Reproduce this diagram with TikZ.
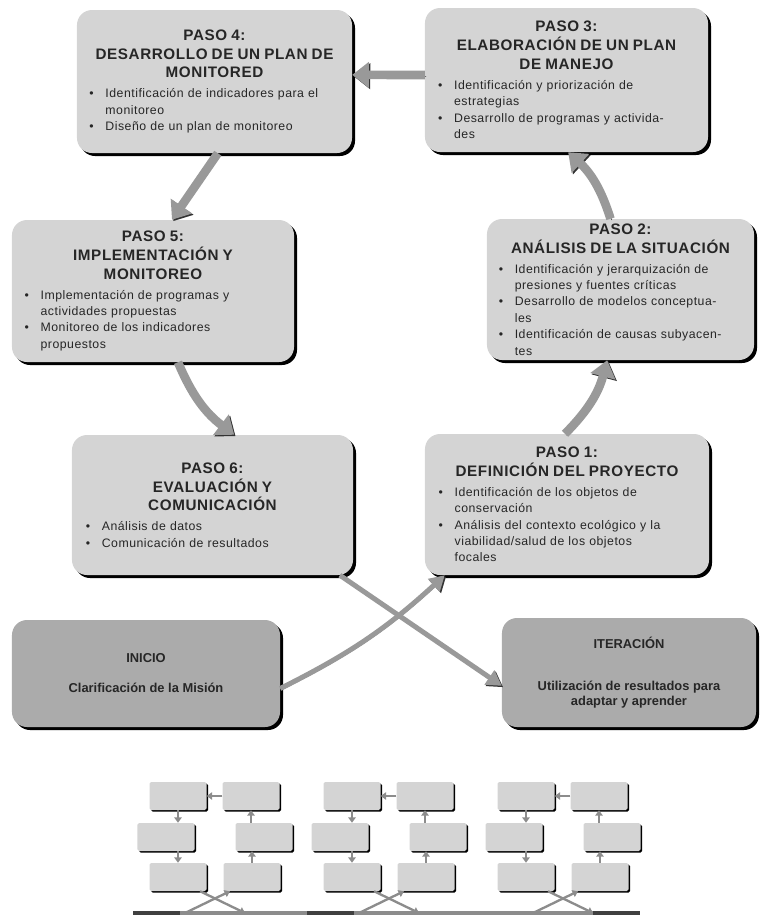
\documentclass[tikz,border=0pt]{standalone}
\usepackage{fontspec}
\setmainfont{Liberation Sans}
\usetikzlibrary{arrows.meta,shadows,positioning}
\newcommand\pasotitle[1]{{\centering\bfseries\fontsize{13}{16}\selectfont #1\par}\vspace{3pt}\raggedright}
\newcommand\bala{\par\hangindent=1.3em\hangafter=1\noindent\makebox[1.3em][l]{\textbullet}}
\tikzset{
  paso/.style={rounded corners=0.45cm, fill=black!17, inner sep=0pt, text=black!85,
    drop shadow={shadow xshift=0.09cm, shadow yshift=-0.09cm, fill=black, opacity=1},
    font=\fontsize{10.5}{14}\selectfont\addfontfeatures{LetterSpace=4}},
  extremo/.style={paso, fill=black!33, align=center, font=\bfseries\fontsize{11}{13}\selectfont},
  minipaso/.style={rounded corners=0.05cm, fill=black!17, inner sep=0pt,
    minimum width=1.71cm, minimum height=0.84cm,
    drop shadow={shadow xshift=0.05cm, shadow yshift=-0.05cm, fill=black, opacity=1}},
  flecha/.style={draw=black!40, line width=0.26cm, -{Triangle[width=0.75cm,length=0.5cm]},
    preaction={draw=black!80, transform canvas={xshift=0.04cm,yshift=-0.04cm}}},
  flechita/.style={flecha, line width=0.15cm, -{Triangle[width=0.5cm,length=0.45cm]}},
  mini/.style={draw=black!45, line width=0.07cm, -{Triangle[width=0.22cm,length=0.16cm]}},
  barra/.style={draw=black!45, line width=0.1cm}
}
\begin{document}
\begin{tikzpicture}[x=0.03cm,y=-0.03cm]
\useasboundingbox (0,0) rectangle (761,916);

\node[paso, minimum width=8.25cm, minimum height=4.29cm, text width=7.5cm] (p4) at (214.5,81.5)
  {\pasotitle{PASO 4:\\DESARROLLO DE UN PLAN DE\\MONITORED}%
   \bala Identificación de indicadores para el\newline monitoreo
   \bala Diseño de un plan de monitoreo\par};
\node[paso, minimum width=8.49cm, minimum height=4.32cm, text width=7.7cm] (p3) at (566.5,80)
  {\pasotitle{PASO 3:\\ELABORACIÓN DE UN PLAN\\DE MANEJO}%
   \bala Identificación y priorización de\newline estrategias
   \bala Desarrollo de programas y activida-\newline des\par};
\node[paso, minimum width=8.46cm, minimum height=4.26cm, text width=7.7cm] (p5) at (153,291)
  {\pasotitle{PASO 5:\\IMPLEMENTACIÓN Y\\MONITOREO}%
   \bala Implementación de programas y\newline actividades propuestas
   \bala Monitoreo de los indicadores\newline propuestos\par};
\node[paso, minimum width=8.01cm, minimum height=4.23cm, text width=7.3cm] (p2) at (620.5,289.5)
  {\pasotitle{PASO 2:\\ANÁLISIS DE LA SITUACIÓN}%
   \bala Identificación y jerarquización de\newline presiones y fuentes críticas
   \bala Desarrollo de modelos conceptua-\newline les
   \bala Identificación de causas subyacen-\newline tes\par};
\node[paso, minimum width=8.43cm, minimum height=4.2cm, text width=7.6cm] (p6) at (212.5,505)
  {\pasotitle{PASO 6:\\EVALUACIÓN Y\\COMUNICACIÓN}%
   \bala Análisis de datos
   \bala Comunicación de resultados\par};
\node[paso, minimum width=8.52cm, minimum height=4.23cm, text width=7.7cm] (p1) at (567,504.5)
  {\pasotitle{PASO 1:\\DEFINICIÓN DEL PROYECTO}%
   \bala Identificación de los objetos de\newline conservación
   \bala Análisis del contexto ecológico y la\newline viabilidad/salud de los objetos\newline focales\par};

\node[extremo, minimum width=8.04cm, minimum height=3.21cm] (ini) at (146,673.5)
  {INICIO\\[0.44cm]Clarificación de la Misión};
\node[extremo, minimum width=7.62cm, minimum height=3.27cm] (ite) at (629,672.5)
  {ITERACIÓN\\[0.8cm]Utilización de resultados para\\adaptar y aprender};

\draw[flecha] ([xshift=-0.06cm]p1.north) to[bend right=15] ([xshift=-0.4cm]p2.south);
\draw[flecha] ([xshift=-0.3cm]p2.north) to[bend right=15] ([xshift=0.05cm]p3.south);
\draw[flecha] ([yshift=0.15cm]p3.west) -- ([yshift=0.2cm]p4.east);
\draw[flecha] ([xshift=0.1cm]p4.south) -- ([xshift=0.57cm]p5.north);
\draw[flecha] ([xshift=0.75cm]p5.south) to[bend right=15] ([xshift=0.65cm]p6.north);
\draw[flechita] ([yshift=-0.45cm]ini.east) to[bend right=8] ([xshift=0.6cm]p1.south west);
\draw[flechita] ([xshift=-0.4cm]p6.south east) -- ([yshift=-0.4cm]ite.west);

\draw[barra] (133,913) -- (640,913);
\foreach \x in {133,307,593}
  \draw[barra, draw=black!75] (\x,913) -- (\x+47,913);
\foreach \g/\dx in {1/0,2/174,3/348}{
  \node[minipaso] (ta\g) at (178+\dx,796) {};
  \node[minipaso] (tb\g) at (251+\dx,796) {};
  \node[minipaso] (tc\g) at (166+\dx,837) {};
  \node[minipaso] (td\g) at (264+\dx,837) {};
  \node[minipaso] (te\g) at (178+\dx,877) {};
  \node[minipaso] (tf\g) at (252+\dx,877) {};
  \coordinate (ba\g) at (185+\dx,913);
  \coordinate (bb\g) at (245+\dx,913);
  \draw[mini] (tf\g.north) -- (tf\g.north |- td\g.south);
  \draw[mini] (tb\g.south |- td\g.north) -- (tb\g.south);
  \draw[mini] (tb\g.west) -- (ta\g.east);
  \draw[mini] (ta\g.south) -- (ta\g.south |- tc\g.north);
  \draw[mini] (te\g.north |- tc\g.south) -- (te\g.north);
  \draw[mini] (ba\g) -- ([xshift=0.2cm]tf\g.south west);
  \draw[mini] ([xshift=-0.2cm]te\g.south east) -- (bb\g);
}
\end{tikzpicture}
\end{document}
